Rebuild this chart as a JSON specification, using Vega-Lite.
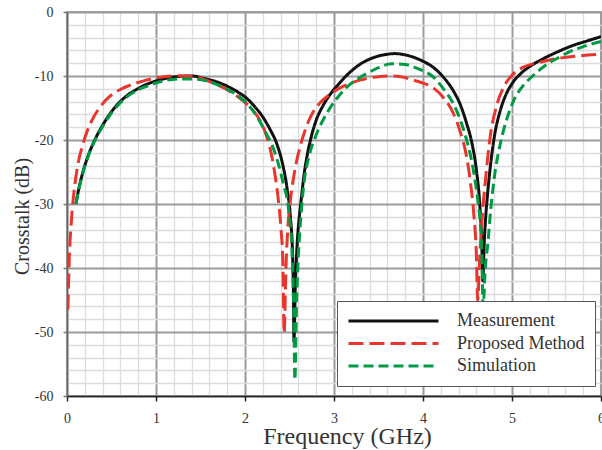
{
  "$schema": "https://vega.github.io/schema/vega-lite/v6.json",
  "width": 534,
  "height": 384,
  "autosize": {"type": "none"},
  "padding": {"left": 67, "top": 12, "right": 1, "bottom": 54},
  "background": "white",
  "config": {
    "view": {"stroke": "#888", "strokeWidth": 1.5},
    "font": "Liberation Serif"
  },
  "data": {
    "values": [
      {"series": "Measurement", "f": 0.1, "db": -30},
      {"series": "Measurement", "f": 0.13, "db": -27.8},
      {"series": "Measurement", "f": 0.16, "db": -26.0},
      {"series": "Measurement", "f": 0.2, "db": -24.0},
      {"series": "Measurement", "f": 0.25, "db": -22.0},
      {"series": "Measurement", "f": 0.315, "db": -19.9},
      {"series": "Measurement", "f": 0.4, "db": -17.7},
      {"series": "Measurement", "f": 0.483, "db": -15.9},
      {"series": "Measurement", "f": 0.57, "db": -14.4},
      {"series": "Measurement", "f": 0.67, "db": -13.1},
      {"series": "Measurement", "f": 0.78, "db": -12.1},
      {"series": "Measurement", "f": 0.895, "db": -11.3},
      {"series": "Measurement", "f": 1.045, "db": -10.6},
      {"series": "Measurement", "f": 1.23, "db": -10.1},
      {"series": "Measurement", "f": 1.4, "db": -10.0},
      {"series": "Measurement", "f": 1.55, "db": -10.4},
      {"series": "Measurement", "f": 1.7, "db": -11.0},
      {"series": "Measurement", "f": 1.83, "db": -11.8},
      {"series": "Measurement", "f": 1.93, "db": -12.6},
      {"series": "Measurement", "f": 2.02, "db": -13.5},
      {"series": "Measurement", "f": 2.11, "db": -14.8},
      {"series": "Measurement", "f": 2.2, "db": -16.4},
      {"series": "Measurement", "f": 2.28, "db": -18.3},
      {"series": "Measurement", "f": 2.36, "db": -20.7},
      {"series": "Measurement", "f": 2.42, "db": -23.6},
      {"series": "Measurement", "f": 2.47, "db": -27.3},
      {"series": "Measurement", "f": 2.51, "db": -32},
      {"series": "Measurement", "f": 2.535, "db": -38},
      {"series": "Measurement", "f": 2.545, "db": -45},
      {"series": "Measurement", "f": 2.55, "db": -51.5},
      {"series": "Measurement", "f": 2.565, "db": -43},
      {"series": "Measurement", "f": 2.585, "db": -36.5},
      {"series": "Measurement", "f": 2.61, "db": -32},
      {"series": "Measurement", "f": 2.63, "db": -29.5},
      {"series": "Measurement", "f": 2.66, "db": -25.8},
      {"series": "Measurement", "f": 2.7, "db": -22.3},
      {"series": "Measurement", "f": 2.75, "db": -19.2},
      {"series": "Measurement", "f": 2.8, "db": -16.9},
      {"series": "Measurement", "f": 2.87, "db": -14.8},
      {"series": "Measurement", "f": 2.95, "db": -13.0},
      {"series": "Measurement", "f": 3.05, "db": -11.3},
      {"series": "Measurement", "f": 3.18, "db": -9.4},
      {"series": "Measurement", "f": 3.3, "db": -8.1},
      {"series": "Measurement", "f": 3.45, "db": -7.1},
      {"series": "Measurement", "f": 3.6, "db": -6.6},
      {"series": "Measurement", "f": 3.68, "db": -6.5},
      {"series": "Measurement", "f": 3.8, "db": -6.7},
      {"series": "Measurement", "f": 3.9, "db": -7.1},
      {"series": "Measurement", "f": 4.0, "db": -7.7},
      {"series": "Measurement", "f": 4.12, "db": -8.7},
      {"series": "Measurement", "f": 4.23, "db": -10.2},
      {"series": "Measurement", "f": 4.34, "db": -12.3},
      {"series": "Measurement", "f": 4.42, "db": -14.5},
      {"series": "Measurement", "f": 4.49, "db": -17.4},
      {"series": "Measurement", "f": 4.55, "db": -20.5},
      {"series": "Measurement", "f": 4.6, "db": -24.7},
      {"series": "Measurement", "f": 4.64, "db": -30.5},
      {"series": "Measurement", "f": 4.66, "db": -36},
      {"series": "Measurement", "f": 4.672, "db": -42},
      {"series": "Measurement", "f": 4.688, "db": -36},
      {"series": "Measurement", "f": 4.7, "db": -33},
      {"series": "Measurement", "f": 4.725, "db": -28.5},
      {"series": "Measurement", "f": 4.75, "db": -25},
      {"series": "Measurement", "f": 4.81, "db": -18.8},
      {"series": "Measurement", "f": 4.86, "db": -15.8},
      {"series": "Measurement", "f": 4.92, "db": -13.3},
      {"series": "Measurement", "f": 5.0, "db": -11.2},
      {"series": "Measurement", "f": 5.1, "db": -9.6},
      {"series": "Measurement", "f": 5.2, "db": -8.5},
      {"series": "Measurement", "f": 5.31, "db": -7.6},
      {"series": "Measurement", "f": 5.5, "db": -6.3},
      {"series": "Measurement", "f": 5.69, "db": -5.2},
      {"series": "Measurement", "f": 5.85, "db": -4.5},
      {"series": "Measurement", "f": 6.0, "db": -3.85},

      {"series": "Proposed Method", "f": 0.01, "db": -46.5},
      {"series": "Proposed Method", "f": 0.025, "db": -38.8},
      {"series": "Proposed Method", "f": 0.05, "db": -32.5},
      {"series": "Proposed Method", "f": 0.09, "db": -26.8},
      {"series": "Proposed Method", "f": 0.12, "db": -24.0},
      {"series": "Proposed Method", "f": 0.18, "db": -20.6},
      {"series": "Proposed Method", "f": 0.23, "db": -18.5},
      {"series": "Proposed Method", "f": 0.3, "db": -16.4},
      {"series": "Proposed Method", "f": 0.38, "db": -14.7},
      {"series": "Proposed Method", "f": 0.48, "db": -13.2},
      {"series": "Proposed Method", "f": 0.6, "db": -12.1},
      {"series": "Proposed Method", "f": 0.78, "db": -11.1},
      {"series": "Proposed Method", "f": 0.9, "db": -10.6},
      {"series": "Proposed Method", "f": 1.045, "db": -10.2},
      {"series": "Proposed Method", "f": 1.25, "db": -9.95},
      {"series": "Proposed Method", "f": 1.45, "db": -10.15},
      {"series": "Proposed Method", "f": 1.64, "db": -11.1},
      {"series": "Proposed Method", "f": 1.83, "db": -12.4},
      {"series": "Proposed Method", "f": 1.98, "db": -13.9},
      {"series": "Proposed Method", "f": 2.08, "db": -15.2},
      {"series": "Proposed Method", "f": 2.17, "db": -17.0},
      {"series": "Proposed Method", "f": 2.23, "db": -18.9},
      {"series": "Proposed Method", "f": 2.28, "db": -21.2},
      {"series": "Proposed Method", "f": 2.33, "db": -24.8},
      {"series": "Proposed Method", "f": 2.37, "db": -28.8},
      {"series": "Proposed Method", "f": 2.405, "db": -34},
      {"series": "Proposed Method", "f": 2.425, "db": -39},
      {"series": "Proposed Method", "f": 2.44, "db": -50.2},
      {"series": "Proposed Method", "f": 2.46, "db": -40},
      {"series": "Proposed Method", "f": 2.48, "db": -34},
      {"series": "Proposed Method", "f": 2.51, "db": -29.5},
      {"series": "Proposed Method", "f": 2.55, "db": -25.5},
      {"series": "Proposed Method", "f": 2.62, "db": -21.0},
      {"series": "Proposed Method", "f": 2.68, "db": -18.3},
      {"series": "Proposed Method", "f": 2.75, "db": -16.0},
      {"series": "Proposed Method", "f": 2.83, "db": -14.4},
      {"series": "Proposed Method", "f": 2.95, "db": -12.9},
      {"series": "Proposed Method", "f": 3.14, "db": -11.4},
      {"series": "Proposed Method", "f": 3.3, "db": -10.6},
      {"series": "Proposed Method", "f": 3.44, "db": -10.2},
      {"series": "Proposed Method", "f": 3.62, "db": -10.0},
      {"series": "Proposed Method", "f": 3.75, "db": -10.1},
      {"series": "Proposed Method", "f": 3.88, "db": -10.6},
      {"series": "Proposed Method", "f": 4.0, "db": -11.1},
      {"series": "Proposed Method", "f": 4.12, "db": -11.9},
      {"series": "Proposed Method", "f": 4.23, "db": -13.4},
      {"series": "Proposed Method", "f": 4.34, "db": -15.8},
      {"series": "Proposed Method", "f": 4.42, "db": -18.8},
      {"series": "Proposed Method", "f": 4.49, "db": -22.6},
      {"series": "Proposed Method", "f": 4.53, "db": -26.3},
      {"series": "Proposed Method", "f": 4.57, "db": -31.5},
      {"series": "Proposed Method", "f": 4.6, "db": -38},
      {"series": "Proposed Method", "f": 4.615, "db": -45},
      {"series": "Proposed Method", "f": 4.635, "db": -39},
      {"series": "Proposed Method", "f": 4.66, "db": -33},
      {"series": "Proposed Method", "f": 4.7, "db": -26.5},
      {"series": "Proposed Method", "f": 4.76, "db": -19.0},
      {"series": "Proposed Method", "f": 4.82, "db": -15.0},
      {"series": "Proposed Method", "f": 4.9, "db": -11.9},
      {"series": "Proposed Method", "f": 5.0, "db": -9.9},
      {"series": "Proposed Method", "f": 5.13, "db": -8.6},
      {"series": "Proposed Method", "f": 5.3, "db": -7.9},
      {"series": "Proposed Method", "f": 5.5, "db": -7.3},
      {"series": "Proposed Method", "f": 5.73, "db": -6.9},
      {"series": "Proposed Method", "f": 6.0, "db": -6.6},

      {"series": "Simulation", "f": 0.1, "db": -30},
      {"series": "Simulation", "f": 0.13, "db": -27.9},
      {"series": "Simulation", "f": 0.16, "db": -26.1},
      {"series": "Simulation", "f": 0.2, "db": -24.1},
      {"series": "Simulation", "f": 0.25, "db": -22.1},
      {"series": "Simulation", "f": 0.315, "db": -20.0},
      {"series": "Simulation", "f": 0.4, "db": -17.9},
      {"series": "Simulation", "f": 0.483, "db": -16.1},
      {"series": "Simulation", "f": 0.57, "db": -14.6},
      {"series": "Simulation", "f": 0.67, "db": -13.3},
      {"series": "Simulation", "f": 0.78, "db": -12.3},
      {"series": "Simulation", "f": 0.895, "db": -11.6},
      {"series": "Simulation", "f": 1.045, "db": -10.9},
      {"series": "Simulation", "f": 1.27, "db": -10.45},
      {"series": "Simulation", "f": 1.45, "db": -10.5},
      {"series": "Simulation", "f": 1.64, "db": -11.1},
      {"series": "Simulation", "f": 1.83, "db": -12.3},
      {"series": "Simulation", "f": 1.95, "db": -13.4},
      {"series": "Simulation", "f": 2.06, "db": -14.9},
      {"series": "Simulation", "f": 2.15, "db": -16.7},
      {"series": "Simulation", "f": 2.24, "db": -19.0},
      {"series": "Simulation", "f": 2.31, "db": -21.0},
      {"series": "Simulation", "f": 2.37, "db": -23.5},
      {"series": "Simulation", "f": 2.43, "db": -26.8},
      {"series": "Simulation", "f": 2.49, "db": -30.9},
      {"series": "Simulation", "f": 2.53, "db": -38},
      {"series": "Simulation", "f": 2.55, "db": -48},
      {"series": "Simulation", "f": 2.56, "db": -57.5},
      {"series": "Simulation", "f": 2.58, "db": -45},
      {"series": "Simulation", "f": 2.6, "db": -38},
      {"series": "Simulation", "f": 2.625, "db": -32.5},
      {"series": "Simulation", "f": 2.66, "db": -27},
      {"series": "Simulation", "f": 2.72, "db": -22.5},
      {"series": "Simulation", "f": 2.8, "db": -19.2},
      {"series": "Simulation", "f": 2.88, "db": -16.8},
      {"series": "Simulation", "f": 2.96, "db": -14.9},
      {"series": "Simulation", "f": 3.05, "db": -13.2},
      {"series": "Simulation", "f": 3.14, "db": -11.8},
      {"series": "Simulation", "f": 3.25, "db": -10.6},
      {"series": "Simulation", "f": 3.37, "db": -9.6},
      {"series": "Simulation", "f": 3.5, "db": -8.7},
      {"series": "Simulation", "f": 3.65, "db": -8.1},
      {"series": "Simulation", "f": 3.8, "db": -8.2},
      {"series": "Simulation", "f": 3.95, "db": -8.9},
      {"series": "Simulation", "f": 4.12, "db": -10.2},
      {"series": "Simulation", "f": 4.23, "db": -12.0},
      {"series": "Simulation", "f": 4.34, "db": -14.3},
      {"series": "Simulation", "f": 4.42, "db": -16.9},
      {"series": "Simulation", "f": 4.49, "db": -20},
      {"series": "Simulation", "f": 4.55, "db": -23.5},
      {"series": "Simulation", "f": 4.6, "db": -27.8},
      {"series": "Simulation", "f": 4.64, "db": -32.5},
      {"series": "Simulation", "f": 4.66, "db": -37},
      {"series": "Simulation", "f": 4.675, "db": -46},
      {"series": "Simulation", "f": 4.7, "db": -40},
      {"series": "Simulation", "f": 4.73, "db": -36},
      {"series": "Simulation", "f": 4.76, "db": -31},
      {"series": "Simulation", "f": 4.8, "db": -26},
      {"series": "Simulation", "f": 4.87, "db": -20.5},
      {"series": "Simulation", "f": 4.94, "db": -16.8},
      {"series": "Simulation", "f": 5.02, "db": -13.8},
      {"series": "Simulation", "f": 5.12, "db": -11.6},
      {"series": "Simulation", "f": 5.24, "db": -9.9},
      {"series": "Simulation", "f": 5.37, "db": -8.4},
      {"series": "Simulation", "f": 5.5, "db": -7.3},
      {"series": "Simulation", "f": 5.65, "db": -6.2},
      {"series": "Simulation", "f": 5.8, "db": -5.4},
      {"series": "Simulation", "f": 6.0, "db": -4.6}
    ]
  },
  "mark": {"type": "line", "strokeWidth": 3, "interpolate": "monotone", "clip": true},
  "encoding": {
    "x": {
      "field": "f",
      "type": "quantitative",
      "scale": {"domain": [0, 6], "nice": false},
      "axis": {
        "title": "Frequency (GHz)",
        "values": [0, 0.2, 0.4, 0.6, 0.8, 1, 1.2, 1.4, 1.6, 1.8, 2, 2.2, 2.4, 2.6, 2.8, 3, 3.2, 3.4, 3.6, 3.8, 4, 4.2, 4.4, 4.6, 4.8, 5, 5.2, 5.4, 5.6, 5.8, 6],
        "labelExpr": "abs(datum.value - round(datum.value)) < 0.001 ? '' + round(datum.value) : ''",
        "grid": true,
        "gridColor": {"condition": {"test": "abs(datum.value - round(datum.value)) < 0.001", "value": "#9a9a9a"}, "value": "#dcdcdc"},
        "gridWidth": {"condition": {"test": "abs(datum.value - round(datum.value)) < 0.001", "value": 2}, "value": 1.3},
        "tickSize": {"condition": {"test": "abs(datum.value - round(datum.value)) < 0.001", "value": 5}, "value": 0},
        "tickColor": "#222",
        "tickWidth": 1.5,
        "domainColor": "#222",
        "domainWidth": 1.5,
        "labelFont": "Liberation Serif",
        "labelFontSize": 14,
        "labelColor": "#333",
        "labelPadding": 10,
        "labelFlush": false,
        "labelOverlap": false,
        "titleFont": "Liberation Serif",
        "titleFontSize": 24,
        "titleFontWeight": "normal",
        "titleColor": "#333",
        "titleX": 280,
        "titleY": 28,
        "titleBaseline": "top"
      }
    },
    "y": {
      "field": "db",
      "type": "quantitative",
      "scale": {"domain": [-60, 0], "nice": false},
      "axis": {
        "title": "Crosstalk (dB)",
        "values": [-60, -58, -56, -54, -52, -50, -48, -46, -44, -42, -40, -38, -36, -34, -32, -30, -28, -26, -24, -22, -20, -18, -16, -14, -12, -10, -8, -6, -4, -2, 0],
        "labelExpr": "datum.value % 10 === 0 ? '' + datum.value : ''",
        "grid": true,
        "gridColor": {"condition": {"test": "datum.value % 10 === 0", "value": "#9a9a9a"}, "value": "#dcdcdc"},
        "gridWidth": {"condition": {"test": "datum.value % 10 === 0", "value": 2}, "value": 1.3},
        "tickSize": {"condition": {"test": "datum.value % 10 === 0", "value": 4}, "value": 0},
        "tickColor": "#777",
        "tickWidth": 1.5,
        "domainColor": "#666",
        "domainWidth": 1.5,
        "labelFont": "Liberation Serif",
        "labelFontSize": 14,
        "labelColor": "#333",
        "labelPadding": 10,
        "labelFlush": false,
        "labelOverlap": false,
        "titleFont": "Liberation Serif",
        "titleFontSize": 20,
        "titleFontWeight": "normal",
        "titleColor": "#333",
        "titleY": 204,
        "titleX": -35,
        "titleBaseline": "bottom"
      }
    },
    "color": {
      "field": "series",
      "type": "nominal",
      "scale": {"domain": ["Measurement", "Proposed Method", "Simulation"], "range": ["#111111", "#e8352e", "#009a44"]},
      "legend": {
        "orient": "none",
        "legendX": 270,
        "legendY": 289,
        "title": null,
        "symbolType": "stroke",
        "symbolSize": 8100,
        "symbolStrokeWidth": 3,
        "clipHeight": 20,
        "rowPadding": 2.5,
        "padding": 10,
        "labelOffset": 17,
        "labelFont": "Liberation Serif",
        "labelFontSize": 18,
        "labelColor": "#333",
        "labelLimit": 300,
        "strokeColor": "#555",
        "fillColor": "white"
      }
    },
    "strokeDash": {
      "field": "series",
      "type": "nominal",
      "scale": {"domain": ["Measurement", "Proposed Method", "Simulation"], "range": [[1, 0], [15, 6], [10, 5]]},
      "legend": {
        "orient": "none",
        "legendX": 270,
        "legendY": 289,
        "title": null,
        "symbolType": "stroke",
        "symbolSize": 8100,
        "symbolStrokeWidth": 3,
        "clipHeight": 20,
        "rowPadding": 2.5,
        "padding": 10,
        "labelOffset": 17,
        "labelFont": "Liberation Serif",
        "labelFontSize": 18,
        "labelColor": "#333",
        "labelLimit": 300,
        "strokeColor": "#555",
        "fillColor": "white"
      }
    }
  }
}
